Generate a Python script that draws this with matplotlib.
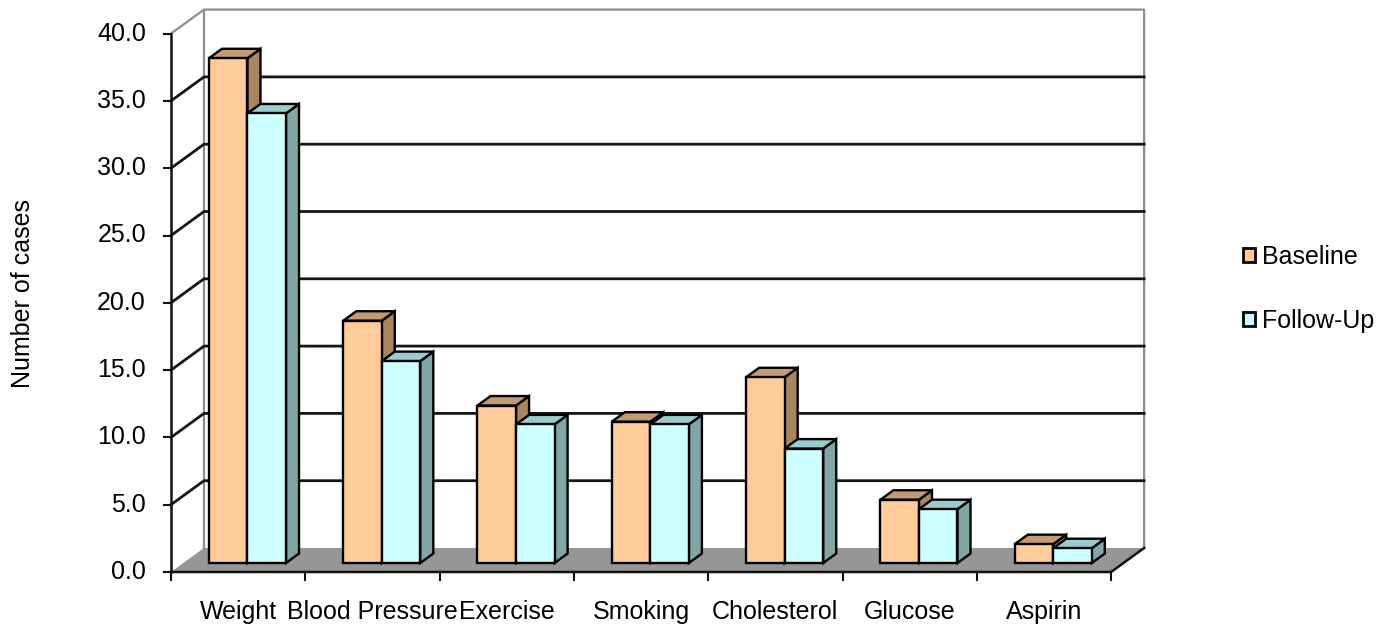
import matplotlib.pyplot as plt
from matplotlib.patches import Polygon, Rectangle, Patch

categories = ["Weight", "Blood Pressure", "Exercise", "Smoking", "Cholesterol", "Glucose", "Aspirin"]
baseline = [37.5, 18.0, 11.7, 10.5, 13.8, 4.7, 1.4]
follow_up = [33.4, 15.0, 10.3, 10.3, 8.5, 4.0, 1.1]
y_ticks = [0, 5, 10, 15, 20, 25, 30, 35, 40]
series_names = ["Baseline", "Follow-Up"]

# face colours: front, top, side
base_colors = ("#FFCC99", "#C49A72", "#A8855F")
follow_colors = ("#CCFFFF", "#99CCCC", "#80A6A6")

plt.rcParams["font.family"] = ["Liberation Sans", "DejaVu Sans"]

W, H = 1376, 627
fig = plt.figure(figsize=(W / 100, H / 100), dpi=100)
ax = fig.add_axes([0, 0, 1, 1])

# one x unit = one category, one y unit = one case
px_x, px_y = 134.3, 13.46
x0_px, y0_px = 171, 572
ax.set_xlim(-x0_px / px_x, (W - x0_px) / px_x)
ax.set_ylim(-(H - y0_px) / px_y, y0_px / px_y)
ax.axis("off")

n = len(categories)
ymax = y_ticks[-1]
DX, DY = 33 / px_x, 24 / px_y  # full depth of the 3d box
d0, d1 = 0.375, 0.77  # bar depth range
gap, bw = 0.19, 0.287
fs = 18

# floor
ax.add_patch(Polygon([(0, 0), (n, 0), (n + DX, DY), (DX, DY)], fc="#969696", ec="none", zorder=1))
ax.plot([0, n, n + DX], [0, 0, DY], color="#111111", lw=1.8, zorder=1.2)

# back wall + left wall outline
wall = "#8c8c8c"
ax.plot([DX, DX], [DY, ymax + DY], color=wall, lw=1.6, zorder=1)
ax.plot([0, DX, n + DX, n + DX], [ymax, ymax + DY, ymax + DY, DY], color=wall, lw=1.6, zorder=1)

# gridlines on left and back walls
for v in y_ticks[1:-1]:
    ax.plot([0, DX, n + DX], [v, v + DY, v + DY], color="#151515", lw=2.0, zorder=1.1)

# value axis
ax.plot([0, 0], [0, ymax], color="#111111", lw=1.8, zorder=2)
for v in y_ticks:
    ax.plot([-7 / px_x, 0], [v, v], color="#111111", lw=1.5, zorder=2)
    ax.text(-25 / px_x, v, f"{v:.1f}", ha="right", va="center", fontsize=fs)

# category axis
for k in range(n + 1):
    ax.plot([k, k], [0, -8 / px_y], color="#111111", lw=1.5, zorder=2)
for k, name in enumerate(categories):
    ax.text(k + 0.5, -40 / px_y, name, ha="center", va="center", fontsize=fs)

ax.text(-148 / px_x, 20.7, "Number of cases", rotation=90, ha="center", va="center", fontsize=fs)


def draw_bar(x, w, v, colors):
    front, top, side = colors
    kw = dict(ec="black", lw=1.7, joinstyle="miter", zorder=3)
    ax.add_patch(Polygon([(x + w + d0 * DX, d0 * DY), (x + w + d1 * DX, d1 * DY),
                          (x + w + d1 * DX, v + d1 * DY), (x + w + d0 * DX, v + d0 * DY)], fc=side, **kw))
    ax.add_patch(Polygon([(x + d0 * DX, v + d0 * DY), (x + w + d0 * DX, v + d0 * DY),
                          (x + w + d1 * DX, v + d1 * DY), (x + d1 * DX, v + d1 * DY)], fc=top, **kw))
    ax.add_patch(Rectangle((x + d0 * DX, d0 * DY), w, v, fc=front, **kw))


for i in range(n):
    draw_bar(i + gap, bw, baseline[i], base_colors)
    draw_bar(i + gap + bw, bw, follow_up[i], follow_colors)

handles = [Patch(fc=base_colors[0], ec="black", lw=2.0), Patch(fc=follow_colors[0], ec="black", lw=2.0)]
fig.legend(handles, series_names, loc="center left", bbox_to_anchor=(1220 / W, 1 - 289 / H),
           frameon=False, fontsize=fs, handlelength=0.5, handleheight=0.5,
           handletextpad=0.3, labelspacing=1.6)

fig.savefig("out.png", dpi=100)
